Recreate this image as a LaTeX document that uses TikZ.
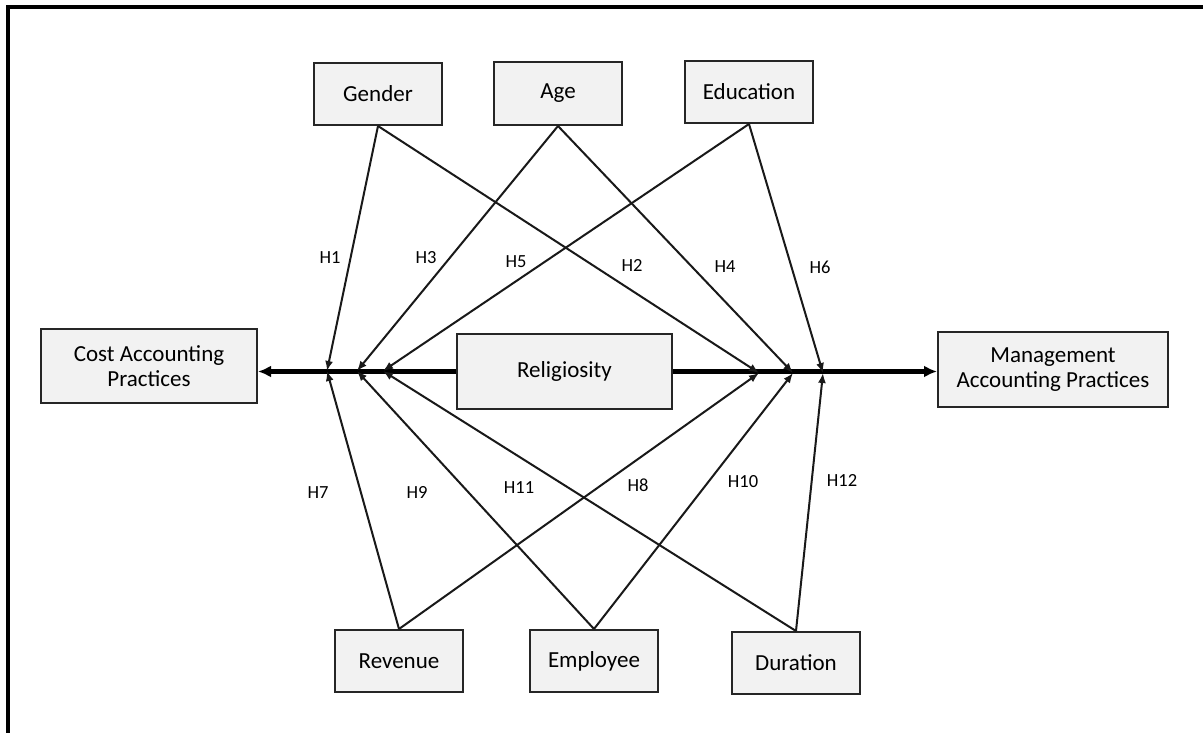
\documentclass[tikz,border=0pt]{standalone}
\usepackage{fontspec}
\setmainfont{Carlito}
\usetikzlibrary{arrows.meta}
\tikzset{
  box/.style={draw=black!85, line width=2pt, fill=black!5, inner sep=0pt, align=center,
              font=\fontsize{23}{25}\selectfont, text=black},
  hyp/.style={font=\fontsize{18.5}{20}\selectfont, text=black, inner sep=0pt},
  conn/.style={draw=black!90, line width=2pt, -{Latex[length=10pt,width=8pt]}},
  mainarr/.style={draw=black, line width=4.5pt, -{Latex[length=13pt,width=12pt]}},
  frame/.style={draw=black, line width=3.5pt}
}
\begin{document}
\begin{tikzpicture}[x=1pt,y=-1pt]
\useasboundingbox (0,0) rectangle (1203,733);
\fill[white] (0,0) rectangle (1203,733);
\draw[frame] (8,733) -- (8,7) -- (1203,7);

% nodes
\node[box, minimum width=128pt, minimum height=62pt] (gender) at (378,94) {Gender};
\node[box, minimum width=128pt, minimum height=63pt] (age) at (558,93.5) {Age};
\node[box, minimum width=128pt, minimum height=62pt] (edu) at (749,92) {Education};
\node[box, minimum width=216pt, minimum height=74pt] (cost) at (149,366) {Cost Accounting\\Practices};
\node[box, minimum width=215pt, minimum height=75pt] (rel) at (564.5,371.5) {Religiosity};
\node[box, minimum width=230pt, minimum height=75pt] (mgmt) at (1053,369.5) {Management\\Accounting Practices};
\node[box, minimum width=128pt, minimum height=62pt] (rev) at (399,661) {Revenue};
\node[box, minimum width=128pt, minimum height=62pt] (emp) at (594,661) {Employee};
\node[box, minimum width=128pt, minimum height=62pt] (dur) at (796,663) {Duration};

% junctions on main line
\coordinate (L1) at (327,371);
\coordinate (L2) at (357,371);
\coordinate (L3) at (383,371);
\coordinate (R1) at (759,373);
\coordinate (R2) at (793,373);
\coordinate (R3) at (823,373);

% main arrows
\draw[mainarr] (rel.west) -- (cost.east |- rel.west);
\draw[mainarr] (rel.east) -- (mgmt.west |- rel.east);

% connectors
\draw[conn] (gender.south) -- (L1);
\draw[conn] (gender.south) -- (R1);
\draw[conn] (age.south) -- (L2);
\draw[conn] (age.south) -- (R2);
\draw[conn] (edu.south) -- (L3);
\draw[conn] (edu.south) -- (R3);
\draw[conn] (rev.north) -- (L1);
\draw[conn] (rev.north) -- (R1);
\draw[conn] (emp.north) -- (L2);
\draw[conn] (emp.north) -- (R2);
\draw[conn] (dur.north) -- (L3);
\draw[conn] (dur.north) -- (R3);

% labels
\node[hyp] (h1) at (330,258) {H1};
\node[hyp] (h3) at (426,258) {H3};
\node[hyp] (h5) at (516,262) {H5};
\node[hyp] (h2) at (632,265) {H2};
\node[hyp] (h4) at (725,267) {H4};
\node[hyp] (h6) at (820,267) {H6};
\node[hyp] (h7) at (318,493) {H7};
\node[hyp] (h9) at (417,492) {H9};
\node[hyp] (h11) at (519,488) {H11};
\node[hyp] (h8) at (638,485) {H8};
\node[hyp] (h10) at (743,482) {H10};
\node[hyp] (h12) at (842,480) {H12};
\end{tikzpicture}
\end{document}
